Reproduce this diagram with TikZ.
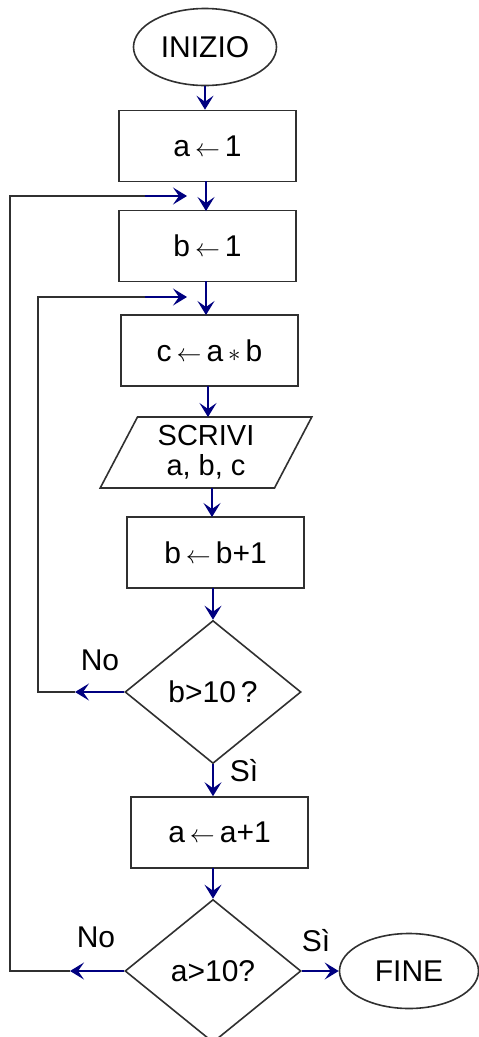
\documentclass[tikz,border=0pt]{standalone}
\usepackage{fontspec}
\setmainfont{Liberation Sans}
\usetikzlibrary{shapes.geometric,arrows.meta}
\definecolor{arrblue}{HTML}{000080}
\definecolor{edge}{HTML}{303030}
\tikzset{
  base/.style={draw=edge, line width=1.6pt, inner sep=0pt, font=\fontsize{30}{32}\selectfont, text=black},
  term/.style={base, ellipse, minimum width=143pt, minimum height=77pt},
  proc/.style={base, rectangle, minimum width=177pt, minimum height=71pt},
  io/.style={base, trapezium, trapezium left angle=64, trapezium right angle=116, trapezium stretches=true, minimum width=212pt, minimum height=71pt},
  dec/.style={base, diamond, aspect=1.23, minimum width=176pt, minimum height=143pt},
  arr/.style={draw=arrblue, line width=1.3pt, -{Stealth[length=14pt, width=17pt, inset=6pt]}},
  plain/.style={draw=edge, line width=1.6pt},
  lab/.style={font=\fontsize{30}{32}\selectfont, inner sep=0pt},
}
\newcommand{\asg}{\,{\fontsize{26}{26}\selectfont$\leftarrow$}\,}
\begin{document}
\begin{tikzpicture}[x=1pt,y=-1pt]
\path[use as bounding box] (0,0) rectangle (479,1037);
\begin{scope}
\clip (0,0) rectangle (479,1037);
\node[term] (start) at (205,47) {INIZIO};
\node[proc] (a1) at (207.5,146) {a\asg1};
\node[proc] (b1) at (207.5,246) {b\asg1};
\node[proc] (c) at (209.5,350.5) {c\asg a\,$\ast$\,b};
\node[io, align=center, font=\fontsize{29}{30}\selectfont] (out) at (206,452.5) {SCRIVI\\a, b, c};
\node[proc] (binc) at (215.5,552.5) {b\asg b+1};
\node[dec] (d1) at (213,692) {b>10\,?};
\node[proc] (ainc) at (219.5,832.5) {a\asg a+1};
\node[dec] (d2) at (213,971) {a>10?};
\node[term, minimum width=139pt, minimum height=75pt] (fine) at (409,971) {FINE};

\coordinate (j1) at (187,196);
\coordinate (m1) at (145,196);
\coordinate (j2) at (187,297);
\coordinate (m2) at (145,297);
\coordinate (no1) at (75,692);
\coordinate (no2) at (70,971);

\draw[arr] (start.south) -- (start.south |- a1.north);
\draw[arr] (206,181) -- (206,211);
\draw[arr] (206,281) -- (206,315);
\draw[arr] (208,386) -- (208,417);
\draw[arr] (212,488) -- (212,517);
\draw[arr] (213,588) -- (d1.north);
\draw[arr] (d1.south) -- (d1.south |- ainc.north);
\draw[arr] (213,868) -- (d2.north);
\draw[arr] (d2.east) -- (fine.west);

\draw[arr] (d1.west) -- (no1);
\draw[plain] (no1) -- (38,692) |- (m2);
\draw[arr] (m2) -- (j2);

\draw[arr] (d2.west) -- (no2);
\draw[plain] (no2) -- (10,971) |- (m1);
\draw[arr] (m1) -- (j1);

\node[lab] (l1) at (100,660) {No};
\node[lab] (l2) at (244,771) {Sì};
\node[lab] (l3) at (96,937) {No};
\node[lab] (l4) at (316,941) {Sì};
\end{scope}
\end{tikzpicture}
\end{document}
